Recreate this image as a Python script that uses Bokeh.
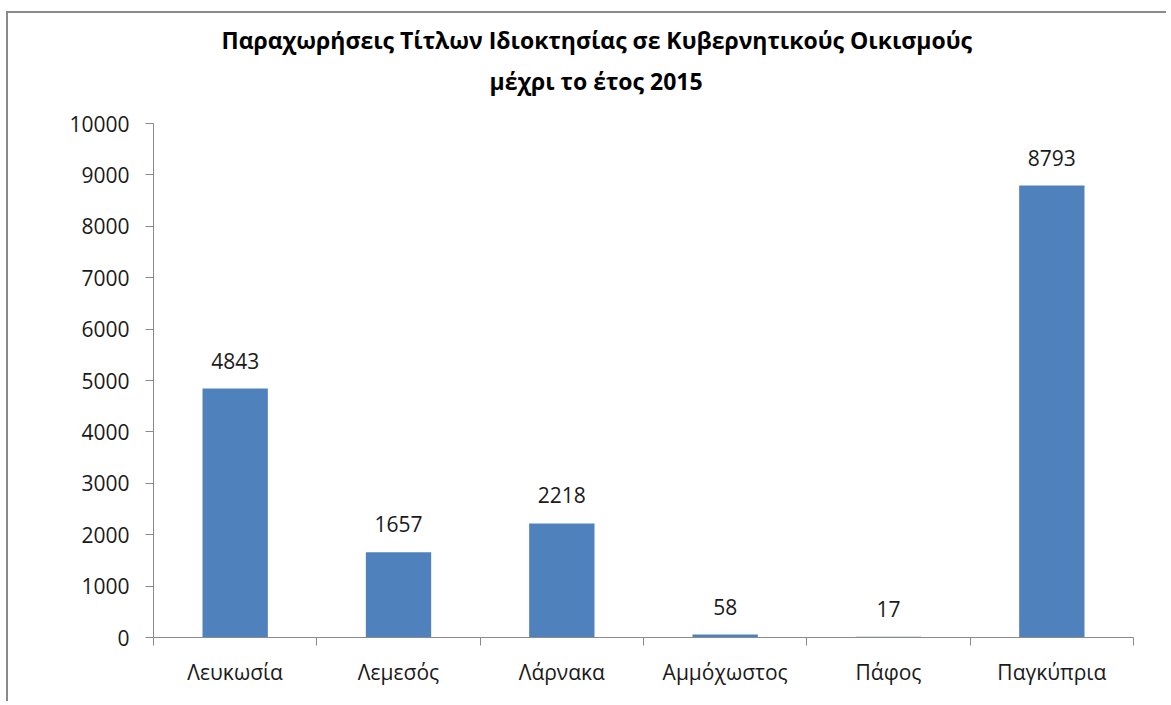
from bokeh.plotting import figure
from bokeh.models import ColumnDataSource, FixedTicker, LabelSet, Title
from bokeh.core.properties import value
from bokeh.embed import file_html
from bokeh.resources import INLINE

categories = ["Λευκωσία", "Λεμεσός", "Λάρνακα", "Αμμόχωστος", "Πάφος", "Παγκύπρια"]
values = [4843, 1657, 2218, 58, 17, 8793]
y_ticks = [0, 1000, 2000, 3000, 4000, 5000, 6000, 7000, 8000, 9000, 10000]
title_line1 = "Παραχωρήσεις Τίτλων Ιδιοκτησίας σε Κυβερνητικούς Οικισμούς"
title_line2 = "μέχρι το έτος 2015"

FONT = "Open Sans"
xs = [i + 0.5 for i in range(len(categories))]
src = ColumnDataSource(dict(x=xs, top=values, lab=[str(v) for v in values]))

p = figure(width=1160, height=690, output_backend="svg", toolbar_location=None,
           x_range=(0, len(categories)), y_range=(0, 10000),
           min_border_left=145, min_border_right=35, min_border_top=10,
           min_border_bottom=66)
p.styles = {"margin-left": "6px", "margin-top": "11px",
            "border-left": "2px solid #8a8a8a", "border-top": "2px solid #8a8a8a"}
p.outline_line_color = None
p.xgrid.visible = False
p.ygrid.visible = False
p.background_fill_color = "white"
p.border_fill_color = "white"

p.vbar(x="x", top="top", width=0.4, bottom=0, source=src, fill_color="#4F81BD", line_color=None)

labels = LabelSet(x="x", y="top", text="lab", source=src, text_align="center",
                  text_baseline="alphabetic", y_offset=20, text_font=value(FONT),
                  text_font_size=value("21px"), text_color=value("#1a1a1a"))
p.add_layout(labels)

# axes
ax = p.xaxis[0]
ax.ticker = FixedTicker(ticks=xs, minor_ticks=list(range(len(categories) + 1)))
ax.major_label_overrides = {x: c for x, c in zip(xs, categories)}
ax.major_tick_out = 0
ax.major_tick_in = 0
ax.minor_tick_out = 8
ax.minor_tick_in = 0
ax.minor_tick_line_color = "#8a8a8a"
ax.axis_line_color = "#8a8a8a"
ax.major_label_text_font = FONT
ax.major_label_text_font_size = "21px"
ax.major_label_text_color = "#1a1a1a"
ax.major_label_standoff = 12

ay = p.yaxis[0]
ay.ticker = FixedTicker(ticks=y_ticks)
ay.minor_tick_line_color = None
ay.major_tick_out = 8
ay.major_tick_in = 0
ay.major_tick_line_color = "#8a8a8a"
ay.axis_line_color = "#8a8a8a"
ay.major_label_text_font = FONT
ay.major_label_text_font_size = "21px"
ay.major_label_text_color = "#1a1a1a"
ay.major_label_standoff = 16

spacer = Title(text=" ", text_font_size="2px", standoff=24)
t2 = Title(text=title_line2, align="left", offset=336, text_font=FONT,
           text_font_style="bold", text_font_size="23px", text_color="black",
           standoff=-3)
t1 = Title(text=title_line1, align="left", offset=68, text_font=FONT,
           text_font_style="bold", text_font_size="23px", text_color="black",
           standoff=17)
p.add_layout(spacer, "above")
p.add_layout(t2, "above")
p.add_layout(t1, "above")

open("out.html", "w").write(file_html(p, INLINE))
